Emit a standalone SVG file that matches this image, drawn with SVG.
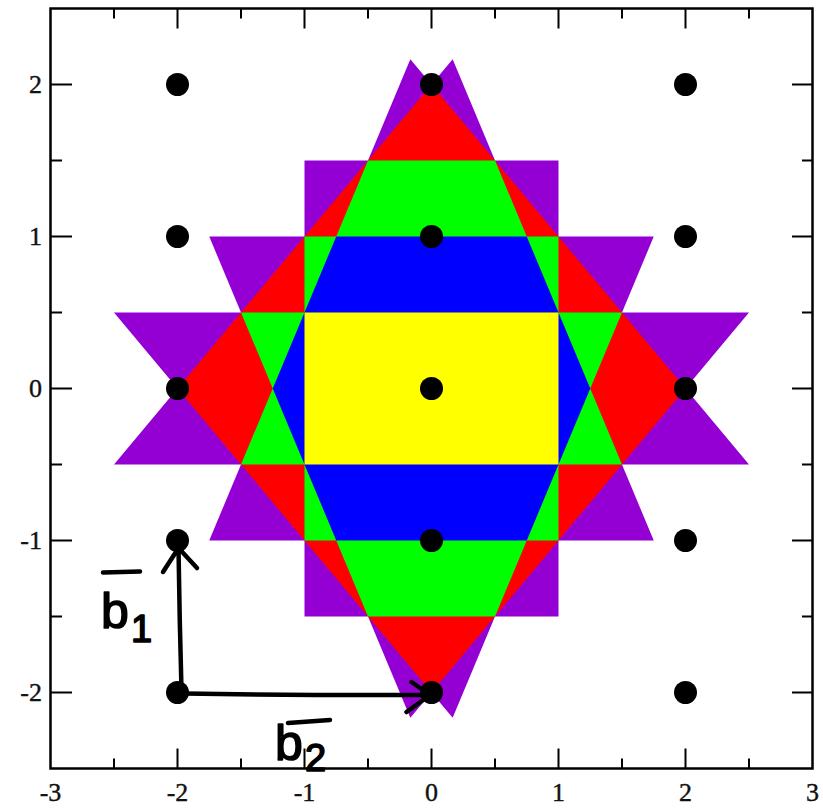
<svg xmlns="http://www.w3.org/2000/svg" width="823" height="808" viewBox="0 0 823 808">
<style>
.tk{stroke:#000;stroke-width:2;fill:none}
.lbl{font-family:"Liberation Serif","Times New Roman",serif;font-size:26px;fill:#111;stroke:#111;stroke-width:0.4}
.lb{text-anchor:end}
.bt{text-anchor:middle}
.dot{fill:#000}
.hand{stroke:#000;stroke-width:4.5;fill:none;stroke-linecap:round;stroke-linejoin:round}
.vl{font-family:"Liberation Sans",Arial,sans-serif;fill:#000;stroke:#000;stroke-width:1.6;stroke-linejoin:round}
</style>
<rect x="0" y="0" width="823" height="808" fill="#fff"/>
<g id="zones" transform="matrix(127 0 0 -152 431.5 388.5)">
  <polygon id="zone5" fill="#9400d3" points="0,2 0.1667,2.1667 0.5,1.5 1,1.5 1,1 1.75,1 1.5,0.5 2.5,0.5 2,0 2.5,-0.5 1.5,-0.5 1.75,-1 1,-1 1,-1.5 0.5,-1.5 0.1667,-2.1667 0,-2 -0.1667,-2.1667 -0.5,-1.5 -1,-1.5 -1,-1 -1.75,-1 -1.5,-0.5 -2.5,-0.5 -2,0 -2.5,0.5 -1.5,0.5 -1.75,1 -1,1 -1,1.5 -0.5,1.5 -0.1667,2.1667"/>
  <polygon id="zone4" fill="#ff0000" points="0,2 2,0 0,-2 -2,0"/>
  <polygon id="zone3" fill="#00ff00" points="0.5,1.5 0.75,1 1,1 1,0.5 1.5,0.5 1.25,0 1.5,-0.5 1,-0.5 1,-1 0.75,-1 0.5,-1.5 -0.5,-1.5 -0.75,-1 -1,-1 -1,-0.5 -1.5,-0.5 -1.25,0 -1.5,0.5 -1,0.5 -1,1 -0.75,1 -0.5,1.5"/>
  <polygon id="zone2" fill="#0000ff" points="0.75,1 1.25,0 0.75,-1 -0.75,-1 -1.25,0 -0.75,1"/>
  <rect id="zone1" fill="#ffff00" x="-1" y="-0.5" width="2" height="1"/>
</g>
<g id="axes">
  <rect x="50.5" y="8.5" width="762" height="760" fill="none" stroke="#000" stroke-width="2.5"/>
  <path class="tk" d="M177.5 768.5V748.5M304.5 768.5V748.5M431.5 768.5V748.5M558.5 768.5V748.5M685.5 768.5V748.5
  M114 768.5V758.5M241 768.5V758.5M368 768.5V758.5M495 768.5V758.5M622 768.5V758.5M749 768.5V758.5
  M177.5 8.5V28.5M304.5 8.5V28.5M431.5 8.5V28.5M558.5 8.5V28.5M685.5 8.5V28.5
  M114 8.5V18.5M241 8.5V18.5M368 8.5V18.5M495 8.5V18.5M622 8.5V18.5M749 8.5V18.5
  M50.5 84.5H72M50.5 236.5H72M50.5 388.5H72M50.5 540.5H72M50.5 692.5H72
  M50.5 160.5H62M50.5 312.5H62M50.5 464.5H62M50.5 616.5H62
  M812.5 84.5H792M812.5 236.5H792M812.5 388.5H792M812.5 540.5H792M812.5 692.5H792
  M812.5 160.5H802M812.5 312.5H802M812.5 464.5H802M812.5 616.5H802"/>
  <g class="lbl lb">
    <text x="42" y="93">2</text>
    <text x="42" y="245">1</text>
    <text x="42" y="397">0</text>
    <text x="42" y="549">-1</text>
    <text x="42" y="701">-2</text>
  </g>
  <g class="lbl bt">
    <text x="50.5" y="801">-3</text>
    <text x="177.5" y="801">-2</text>
    <text x="304.5" y="801">-1</text>
    <text x="431.5" y="801">0</text>
    <text x="558.5" y="801">1</text>
    <text x="685.5" y="801">2</text>
    <text x="812.5" y="801">3</text>
  </g>
</g>
<g id="lattice">
  <circle id="p-2_2" class="dot" cx="177.5" cy="84.5" r="11.5"/>
  <circle id="p0_2" class="dot" cx="431.5" cy="84.5" r="11.5"/>
  <circle id="p2_2" class="dot" cx="685.5" cy="84.5" r="11.5"/>
  <circle id="p-2_1" class="dot" cx="177.5" cy="236.5" r="11.5"/>
  <circle id="p0_1" class="dot" cx="431.5" cy="236.5" r="11.5"/>
  <circle id="p2_1" class="dot" cx="685.5" cy="236.5" r="11.5"/>
  <circle id="p-2_0" class="dot" cx="177.5" cy="388.5" r="11.5"/>
  <circle id="p0_0" class="dot" cx="431.5" cy="388.5" r="11.5"/>
  <circle id="p2_0" class="dot" cx="685.5" cy="388.5" r="11.5"/>
  <circle id="p-2_-1" class="dot" cx="177.5" cy="540.5" r="11.5"/>
  <circle id="p0_-1" class="dot" cx="431.5" cy="540.5" r="11.5"/>
  <circle id="p2_-1" class="dot" cx="685.5" cy="540.5" r="11.5"/>
  <circle id="p-2_-2" class="dot" cx="177.5" cy="692.5" r="11.5"/>
  <circle id="p0_-2" class="dot" cx="431.5" cy="692.5" r="11.5"/>
  <circle id="p2_-2" class="dot" cx="685.5" cy="692.5" r="11.5"/>
</g>
<g id="connectors">
  <path id="b1-arrow" class="hand" d="M181.5 690 Q179.5 620 178.5 548 M163 572 L178.5 548 L197 568"/>
  <path id="b2-arrow" class="hand" d="M184 693.5 Q300 695.5 430 695 M411.5 682 L430 695 L406.5 712"/>
</g>
<g id="label-b1">
  <line class="hand" x1="103" y1="572.5" x2="140" y2="571.5"/>
  <text class="vl" x="101" y="628" font-size="50">b</text>
  <text class="vl" x="131" y="642" font-size="38">1</text>
</g>
<g id="label-b2">
  <line class="hand" x1="288" y1="723" x2="330" y2="720"/>
  <text class="vl" x="275" y="760" font-size="50">b</text>
  <text class="vl" x="305" y="771" font-size="38">2</text>
</g>
</svg>
